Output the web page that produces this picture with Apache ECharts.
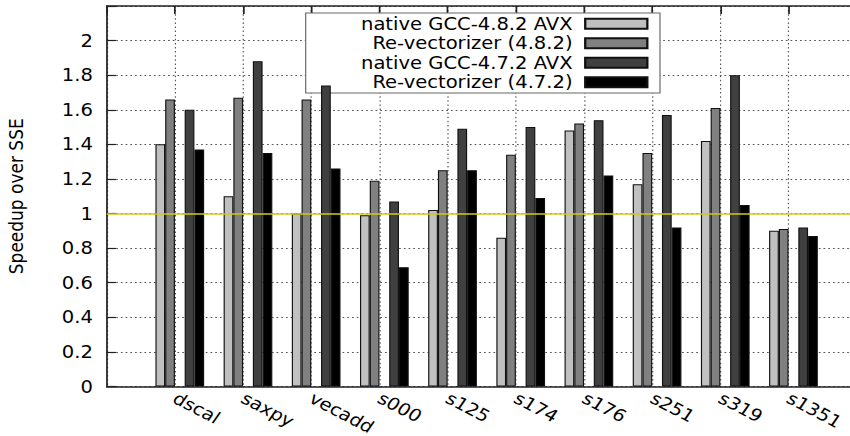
<!DOCTYPE html>
<html><head><meta charset="utf-8">
<script src="https://cdn.jsdelivr.net/npm/echarts@6/dist/echarts.min.js"></script>
<style>
html,body{margin:0;padding:0;background:#fff;overflow:hidden;}
#wrap{width:850px;height:436px;overflow:hidden;position:relative;}
#chart{width:739px;height:436px;transform:scaleX(1.15020);transform-origin:0 0;}
</style></head><body>
<div id="wrap"><div id="chart"></div></div>
<script>
// ---- data ----
const categories = ['dscal','saxpy','vecadd','s000','s125','s174','s176','s251','s319','s1351'];
const seriesNames = ['native GCC-4.8.2 AVX','Re-vectorizer (4.8.2)','native GCC-4.7.2 AVX','Re-vectorizer (4.7.2)'];
const gcc482   = [1.40,1.10,1.00,0.99,1.02,0.86,1.48,1.17,1.42,0.90];
const revec482 = [1.66,1.67,1.66,1.19,1.25,1.34,1.52,1.35,1.61,0.91];
const gcc472   = [1.60,1.88,1.74,1.07,1.49,1.50,1.54,1.57,1.80,0.92];
const revec472 = [1.37,1.35,1.26,0.69,1.25,1.09,1.22,0.92,1.05,0.87];
const yTickLabels = ['0','0.2','0.4','0.6','0.8','1','1.2','1.4','1.6','1.8','2'];
const refLevel = 1;

// ---- layout (unscaled px) ----
const Y_MAX = 2.2, Y_STEP = 0.2;
const LEFT = 92.8, TOP = 6, BOTTOM = 49.5, SP = 59.28;
const FONT = 'DejaVu Sans';
const colors = ['#c0c0c0','#808080','#404040','#000000'];
const dotted = {color:'#555', width:1, type:[1.5,2.6]};

const chart = echarts.init(document.getElementById('chart'), null, {renderer:'svg'});

const barSeries = [];
const values = [gcc482, revec482, gcc472, revec472];
const order = [0,1,null,2,3];
order.forEach(function(idx){
  if (idx === null) {
    barSeries.push({type:'bar', name:'_gap', xAxisIndex:1, yAxisIndex:1,
      data: categories.map(function(){return '-';}), barGap:'0%', barCategoryGap:'28.57%', silent:true});
  } else {
    barSeries.push({type:'bar', name:seriesNames[idx], xAxisIndex:1, yAxisIndex:1,
      data: values[idx], barGap:'0%', barCategoryGap:'28.57%',
      itemStyle:{color:colors[idx], borderColor:'#111', borderWidth:1},
      emphasis:{disabled:true}, silent:true});
  }
});

const option = {
  animation:false,
  backgroundColor:'#fff',
  textStyle:{fontFamily:FONT},
  grid:[
    {left:LEFT, top:TOP, bottom:BOTTOM, width:SP*11, containLabel:false, outerBoundsMode:'none'},
    {left:LEFT + SP*4/7, top:TOP, bottom:BOTTOM, width:SP*10, containLabel:false, outerBoundsMode:'none'}
  ],
  legend:{
    data:seriesNames.map(function(n){return {name:n, icon:'rect'};}),
    orient:'vertical', align:'right',
    right:739-573.8, top:13, z:1,
    itemWidth:54, itemHeight:10, itemGap:0,
    padding:[1,10,1,48],
    backgroundColor:'#fff', borderColor:'#666', borderWidth:1,
    textStyle:{fontFamily:FONT, fontSize:17, color:'#000', lineHeight:19.5, padding:[0,6,0,0]},
    selectedMode:false
  },
  xAxis:[
    {type:'value', gridIndex:0, position:'bottom', min:-1, max:10, interval:1,
     axisLine:{show:true, onZero:false, lineStyle:{color:'#222', width:1.5}},
     axisTick:{show:false},
     axisLabel:{show:true, rotate:-31, margin:10, fontSize:17, color:'#000', fontFamily:FONT,
       formatter:function(v){ return categories[v] !== undefined ? categories[v] : ''; }},
     splitLine:{show:true, lineStyle:dotted}},
    {type:'category', gridIndex:1, data:categories, show:false},
    {type:'value', gridIndex:0, position:'top', min:-1, max:10, interval:1,
     axisLine:{show:true, onZero:false, lineStyle:{color:'#222', width:1.5}},
     axisTick:{show:true, inside:true, length:8, lineStyle:{color:'#222', width:1.5}},
     axisLabel:{show:false}, splitLine:{show:false}}
  ],
  yAxis:[
    {type:'value', gridIndex:0, min:0, max:Y_MAX, interval:Y_STEP,
     name:'Speedup over SSE', nameLocation:'middle', nameGap:70,
     nameTextStyle:{fontFamily:FONT, fontSize:17, color:'#000'},
     axisLine:{show:true, onZero:false, lineStyle:{color:'#222', width:1.5}},
     axisTick:{show:true, inside:true, length:8, lineStyle:{color:'#222', width:1.2}},
     axisLabel:{show:true, margin:12, fontSize:17, color:'#000', fontFamily:FONT,
       formatter:function(v){ const i = Math.round(v/Y_STEP); return yTickLabels[i] !== undefined ? yTickLabels[i] : ''; }},
     splitLine:{show:true, lineStyle:dotted}},
    {type:'value', gridIndex:1, min:0, max:Y_MAX, interval:Y_STEP, show:false, splitLine:{show:false}}
  ],
  series: barSeries.concat([
    {type:'line', name:'_ref', xAxisIndex:0, yAxisIndex:0, data:[], silent:true,
     markLine:{silent:true, symbol:'none', label:{show:false}, z:5,
       lineStyle:{color:'rgba(205,205,20,0.75)', width:2, type:'solid'},
       data:[{yAxis:refLevel}]}}
  ])
};
chart.setOption(option);
</script>
</body></html>
